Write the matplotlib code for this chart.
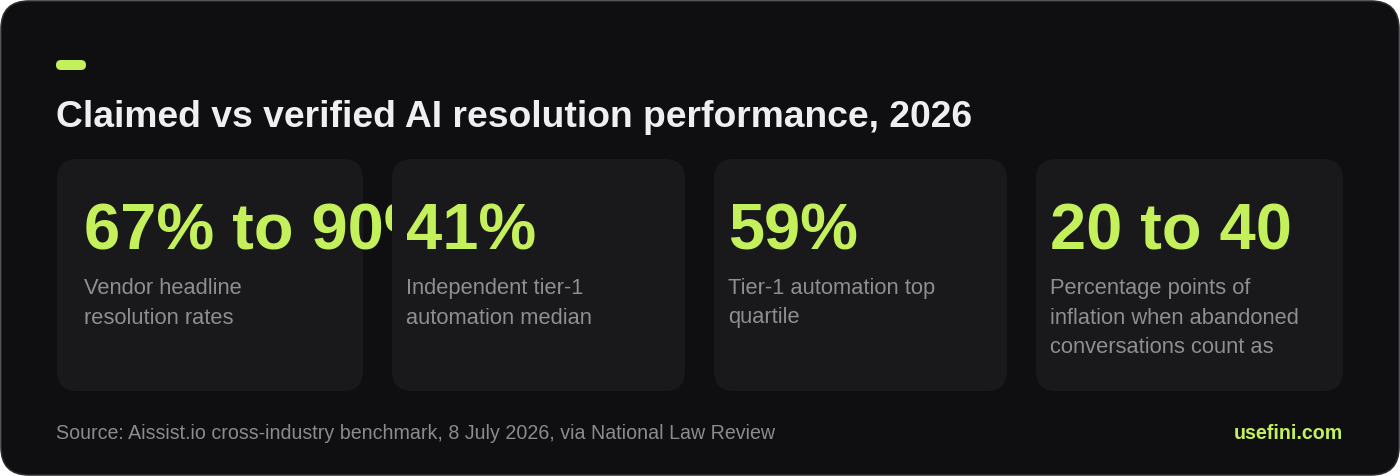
import matplotlib
matplotlib.use("Agg")
import matplotlib.pyplot as plt
from matplotlib.patches import FancyBboxPatch, Rectangle

# ---- data ----
title = "Claimed vs verified AI resolution performance, 2026"
stat_values = ["67% to 90%", "41%", "59%", "20 to 40"]
stat_labels = [
    ["Vendor headline", "resolution rates"],
    ["Independent tier-1", "automation median"],
    ["Tier-1 automation top", "quartile"],
    ["Percentage points of", "inflation when abandoned", "conversations count as"],
]
source_text = "Source: Aissist.io cross-industry benchmark, 8 July 2026, via National Law Review"
brand_text = "usefini.com"

# ---- style ----
W, H = 1400, 476
BG = "#0f0f11"
CARD = "#19191b"
LIME = "#c4f05c"
TITLE_C = "#efeff1"
LABEL_C = "#8e8e93"
SRC_C = "#8a8a8f"
FONT = ["Liberation Sans", "DejaVu Sans"]

px = 72 / 100.0  # px -> pt at dpi 100

fig = plt.figure(figsize=(W / 100, H / 100), dpi=100, facecolor="white")
ax = fig.add_axes([0, 0, 1, 1])
ax.set_xlim(0, W)
ax.set_ylim(H, 0)
ax.axis("off")

# outer panel
ax.add_patch(FancyBboxPatch((1, 1), W - 2, H - 2,
                            boxstyle="round,pad=0,rounding_size=28",
                            facecolor=BG, edgecolor="#2c2c30", linewidth=1.6 * px, zorder=0))

# accent pill
ax.add_patch(FancyBboxPatch((56, 60), 30, 10,
                            boxstyle="round,pad=0,rounding_size=5",
                            facecolor=LIME, edgecolor="none", zorder=1))

ax.text(56, 127, title, color=TITLE_C, fontsize=37.3 * px, fontweight="bold",
        family=FONT, va="baseline", ha="left", zorder=1)

card_x = [57, 392, 714, 1036]
card_w = [306, 293, 293, 307]
text_x = [84, 406, 728, 1050]
card_y, card_h = 159, 232

for i, (val, lines) in enumerate(zip(stat_values, stat_labels)):
    z = 2 + 2 * i
    x0 = card_x[i]
    ax.add_patch(FancyBboxPatch((x0, card_y), card_w[i], card_h,
                                boxstyle="round,pad=0,rounding_size=20",
                                facecolor=CARD, edgecolor="none", zorder=z))
    t = ax.text(text_x[i], 250, val, color=LIME, fontsize=65 * px, fontweight="bold",
                family=FONT, va="baseline", ha="left", zorder=z + 1)
    clip = Rectangle((x0, card_y), (text_x[i] - x0) + 311, card_h,
                     transform=ax.transData, visible=False)
    ax.add_patch(clip)
    t.set_clip_path(clip)
    for j, ln in enumerate(lines):
        ax.text(text_x[i], 294 + 29.5 * j, ln, color=LABEL_C, fontsize=21.9 * px,
                family=FONT, va="baseline", ha="left", zorder=z + 1)

ax.text(56, 439, source_text, color=SRC_C, fontsize=19.7 * px, family=FONT,
        va="baseline", ha="left", zorder=20)
ax.text(1343, 439, brand_text, color=LIME, fontsize=19.6 * px, fontweight="bold",
        family=FONT, va="baseline", ha="right", zorder=20)

fig.savefig("out.png", dpi=100, facecolor="white")
